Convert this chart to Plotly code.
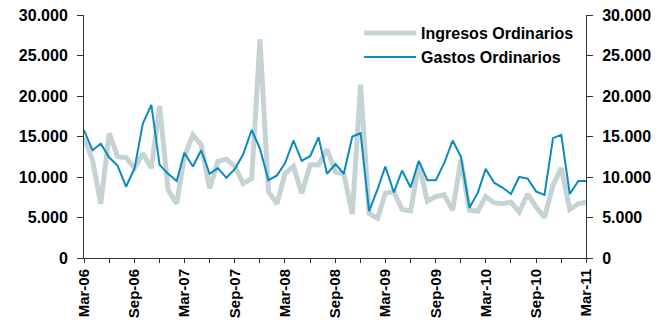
import plotly.graph_objects as go
import pandas as pd

# Monthly series, Mar-2006 .. Mar-2011
months = pd.date_range("2006-03-01", "2011-03-01", freq="MS").strftime("%Y-%m-%d").tolist()

ingresos = [
    14900, 12100, 6700, 15400, 12500, 12400, 11100, 12900, 11100, 18800,
    8400, 6700, 12500, 15200, 14000, 8600, 11900, 12200, 11300, 9200,
    9800, 27000, 8200, 6700, 10400, 11300, 8000, 11500, 11500, 13400,
    10600, 10400, 5400, 21400, 5500, 4900, 8000, 8200, 6000, 5800,
    11700, 7000, 7600, 7800, 5900, 12100, 5900, 5800, 7600, 6800,
    6700, 6900, 5700, 7900, 6300, 5000, 9000, 11100, 6000, 6700, 6900,
]

gastos = [
    15800, 13300, 14100, 12400, 11400, 8800, 11100, 16600, 18900, 11500,
    10400, 9500, 13000, 11300, 13300, 10400, 11100, 9900, 11000, 12800,
    15800, 13500, 9600, 10200, 11700, 14500, 12000, 12600, 14900, 10400,
    11600, 10400, 15000, 15400, 5800, 8500, 11300, 8100, 10800, 8700,
    12000, 9600, 9600, 11700, 14500, 12500, 6200, 8100, 11000, 9300,
    8700, 7900, 10000, 9800, 8200, 7800, 14800, 15200, 7900, 9500, 9500,
]

tick_vals = pd.date_range("2006-03-01", "2011-03-01", freq="6MS").strftime("%Y-%m-%d").tolist()
tick_text = [pd.Timestamp(d).strftime("%b-%y") for d in tick_vals]

FONT = "Liberation Sans, Arial, sans-serif"
AXIS_COLOR = "#333333"

fig = go.Figure()
fig.add_trace(go.Scatter(
    x=months, y=ingresos, name="Ingresos Ordinarios", mode="lines",
    line=dict(color="#c6d3d4", width=5),
))
fig.add_trace(go.Scatter(
    x=months, y=gastos, name="Gastos Ordinarios", mode="lines",
    line=dict(color="#0a8bbd", width=2), yaxis="y2",
))

yaxis_common = dict(
    range=[0, 30000], dtick=5000, tickformat=",d",
    showgrid=False, zeroline=False, automargin=False,
    showline=True, linecolor=AXIS_COLOR, linewidth=1,
    ticks="outside", ticklen=6, tickcolor=AXIS_COLOR,
    ticklabelstandoff=6,
    tickfont=dict(family=FONT, size=16, color="#000000", weight="bold"),
)

fig.update_layout(
    width=667, height=320,
    margin=dict(l=84, r=81, t=15, b=62),
    paper_bgcolor="white", plot_bgcolor="white",
    separators=",.",
    showlegend=True,
    legend=dict(
        x=0.548, y=0.995, xanchor="left", yanchor="top",
        bgcolor="rgba(0,0,0,0)", tracegroupgap=0, itemwidth=52,
        font=dict(family=FONT, size=16, color="#000000", weight="bold"),
    ),
    xaxis=dict(
        type="date",
        range=["2006-03-01", "2011-03-01"],
        tickvals=tick_vals, ticktext=tick_text, tickangle=-90,
        showgrid=False, zeroline=False, automargin=False,
        showline=True, linecolor=AXIS_COLOR, linewidth=1,
        ticks="outside", ticklen=4, tickcolor=AXIS_COLOR,
        ticklabelstandoff=0,
        minor=dict(dtick="M3", tick0="2006-03-01", ticks="outside", ticklen=4, tickcolor=AXIS_COLOR),
        tickfont=dict(family=FONT, size=15, color="#000000", weight="bold"),
    ),
    yaxis=dict(side="left", **yaxis_common),
    yaxis2=dict(side="right", overlaying="y", **yaxis_common),
)

fig.write_html("out.html")
